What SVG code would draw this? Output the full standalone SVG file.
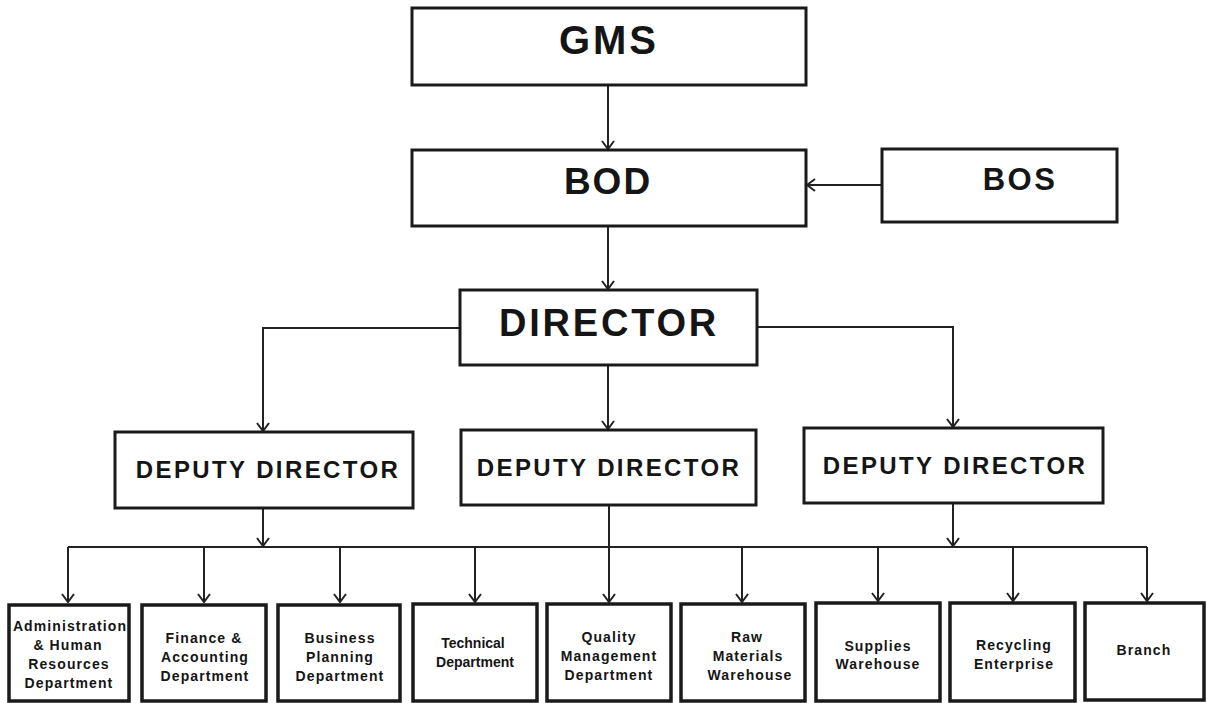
<svg xmlns="http://www.w3.org/2000/svg" width="1207" height="703" viewBox="0 0 1207 703">
<style>
.box{fill:#fff;stroke:#1a1a1a;stroke-width:3}
.sbox{fill:#fff;stroke:#1a1a1a;stroke-width:3.5}
.ln{fill:none;stroke:#222;stroke-width:2}
.t{font-family:"Liberation Sans",Arial,sans-serif;font-weight:bold;fill:#151515;text-anchor:middle}
.big{font-size:38px;letter-spacing:4px}
.dep{font-size:24px;letter-spacing:2.4px}
.sm{font-size:14px;letter-spacing:1.1px}
</style>
<defs>
<marker id="ah" markerUnits="userSpaceOnUse" markerWidth="20" markerHeight="20" refX="0" refY="0" orient="auto" overflow="visible">
<path d="M-8,-6 L0,0 L-8,6" fill="none" stroke="#222" stroke-width="2"/>
</marker>
</defs>
<rect width="1207" height="703" fill="#fff"/>
<g id="connectors">
<path class="ln" d="M608,85 V149" marker-end="url(#ah)"/>
<path class="ln" d="M882,185 H807" marker-end="url(#ah)"/>
<path class="ln" d="M608,226 V289" marker-end="url(#ah)"/>
<path class="ln" d="M460,328 H263 V431" marker-end="url(#ah)"/>
<path class="ln" d="M608,365 V429" marker-end="url(#ah)"/>
<path class="ln" d="M757,327 H953 V427" marker-end="url(#ah)"/>
<path class="ln" d="M263,508 V546" marker-end="url(#ah)"/>
<path class="ln" d="M953,503 V546" marker-end="url(#ah)"/>
<path class="ln" d="M609,505 V602" marker-end="url(#ah)"/>
<path class="ln" d="M68,547 H1147"/>
<path class="ln" d="M68,547 V602" marker-end="url(#ah)"/>
<path class="ln" d="M204,547 V602" marker-end="url(#ah)"/>
<path class="ln" d="M340,547 V602" marker-end="url(#ah)"/>
<path class="ln" d="M475,547 V602" marker-end="url(#ah)"/>
<path class="ln" d="M742,547 V602" marker-end="url(#ah)"/>
<path class="ln" d="M878,547 V601" marker-end="url(#ah)"/>
<path class="ln" d="M1013,547 V601" marker-end="url(#ah)"/>
<path class="ln" d="M1147,547 V601" marker-end="url(#ah)"/>
</g>
<g id="gms"><rect class="box" x="412" y="8" width="394" height="77"/><text class="t big" x="609" y="54" style="font-size:40px;letter-spacing:3px">GMS</text></g>
<g id="bod"><rect class="box" x="412" y="150" width="394" height="76"/><text class="t big" x="608" y="194" style="font-size:37px;letter-spacing:2px">BOD</text></g>
<g id="bos"><rect class="box" x="882" y="149" width="235" height="73"/><text class="t" x="1020" y="190" style="font-size:31px;letter-spacing:2.5px">BOS</text></g>
<g id="director"><rect class="box" x="460" y="290" width="297" height="75"/><text class="t big" x="609" y="336" style="font-size:38px;letter-spacing:2.8px">DIRECTOR</text></g>
<g id="deputy1"><rect class="box" x="115" y="432" width="298" height="76"/><text class="t dep" x="268" y="478">DEPUTY DIRECTOR</text></g>
<g id="deputy2"><rect class="box" x="461" y="430" width="295" height="75"/><text class="t dep" x="609" y="476">DEPUTY DIRECTOR</text></g>
<g id="deputy3"><rect class="box" x="804" y="428" width="299" height="75"/><text class="t dep" x="955" y="474">DEPUTY DIRECTOR</text></g>
<g id="admin"><rect class="sbox" x="9" y="605" width="120" height="96"/><text class="t sm" x="70" y="631">Administration</text><text class="t sm" x="68" y="650">&amp; Human</text><text class="t sm" x="69" y="669">Resources</text><text class="t sm" x="69" y="688">Department</text></g>
<g id="finance"><rect class="sbox" x="142" y="605" width="124" height="96"/><text class="t sm" x="204" y="643">Finance &amp;</text><text class="t sm" x="205" y="662">Accounting</text><text class="t sm" x="205" y="681">Department</text></g>
<g id="business"><rect class="sbox" x="278" y="605" width="122" height="96"/><text class="t sm" x="340" y="643">Business</text><text class="t sm" x="340" y="662">Planning</text><text class="t sm" x="340" y="681">Department</text></g>
<g id="technical"><rect class="sbox" x="413" y="604" width="124" height="97"/><text class="t sm" x="473" y="648" style="letter-spacing:0px">Technical</text><text class="t sm" x="475" y="667" style="letter-spacing:0px">Department</text></g>
<g id="quality"><rect class="sbox" x="547" y="604" width="124" height="97"/><text class="t sm" x="609" y="642">Quality</text><text class="t sm" x="609" y="661">Management</text><text class="t sm" x="609" y="680">Department</text></g>
<g id="raw"><rect class="sbox" x="681" y="604" width="124" height="97"/><text class="t sm" x="747" y="642">Raw</text><text class="t sm" x="748" y="661">Materials</text><text class="t sm" x="750" y="680">Warehouse</text></g>
<g id="supplies"><rect class="sbox" x="816" y="603" width="124" height="98"/><text class="t sm" x="878" y="651">Supplies</text><text class="t sm" x="878" y="669">Warehouse</text></g>
<g id="recycling"><rect class="sbox" x="950" y="603" width="125" height="98"/><text class="t sm" x="1014" y="650">Recycling</text><text class="t sm" x="1014" y="669">Enterprise</text></g>
<g id="branch"><rect class="sbox" x="1085" y="603" width="119" height="97"/><text class="t sm" x="1144" y="655">Branch</text></g>
</svg>
